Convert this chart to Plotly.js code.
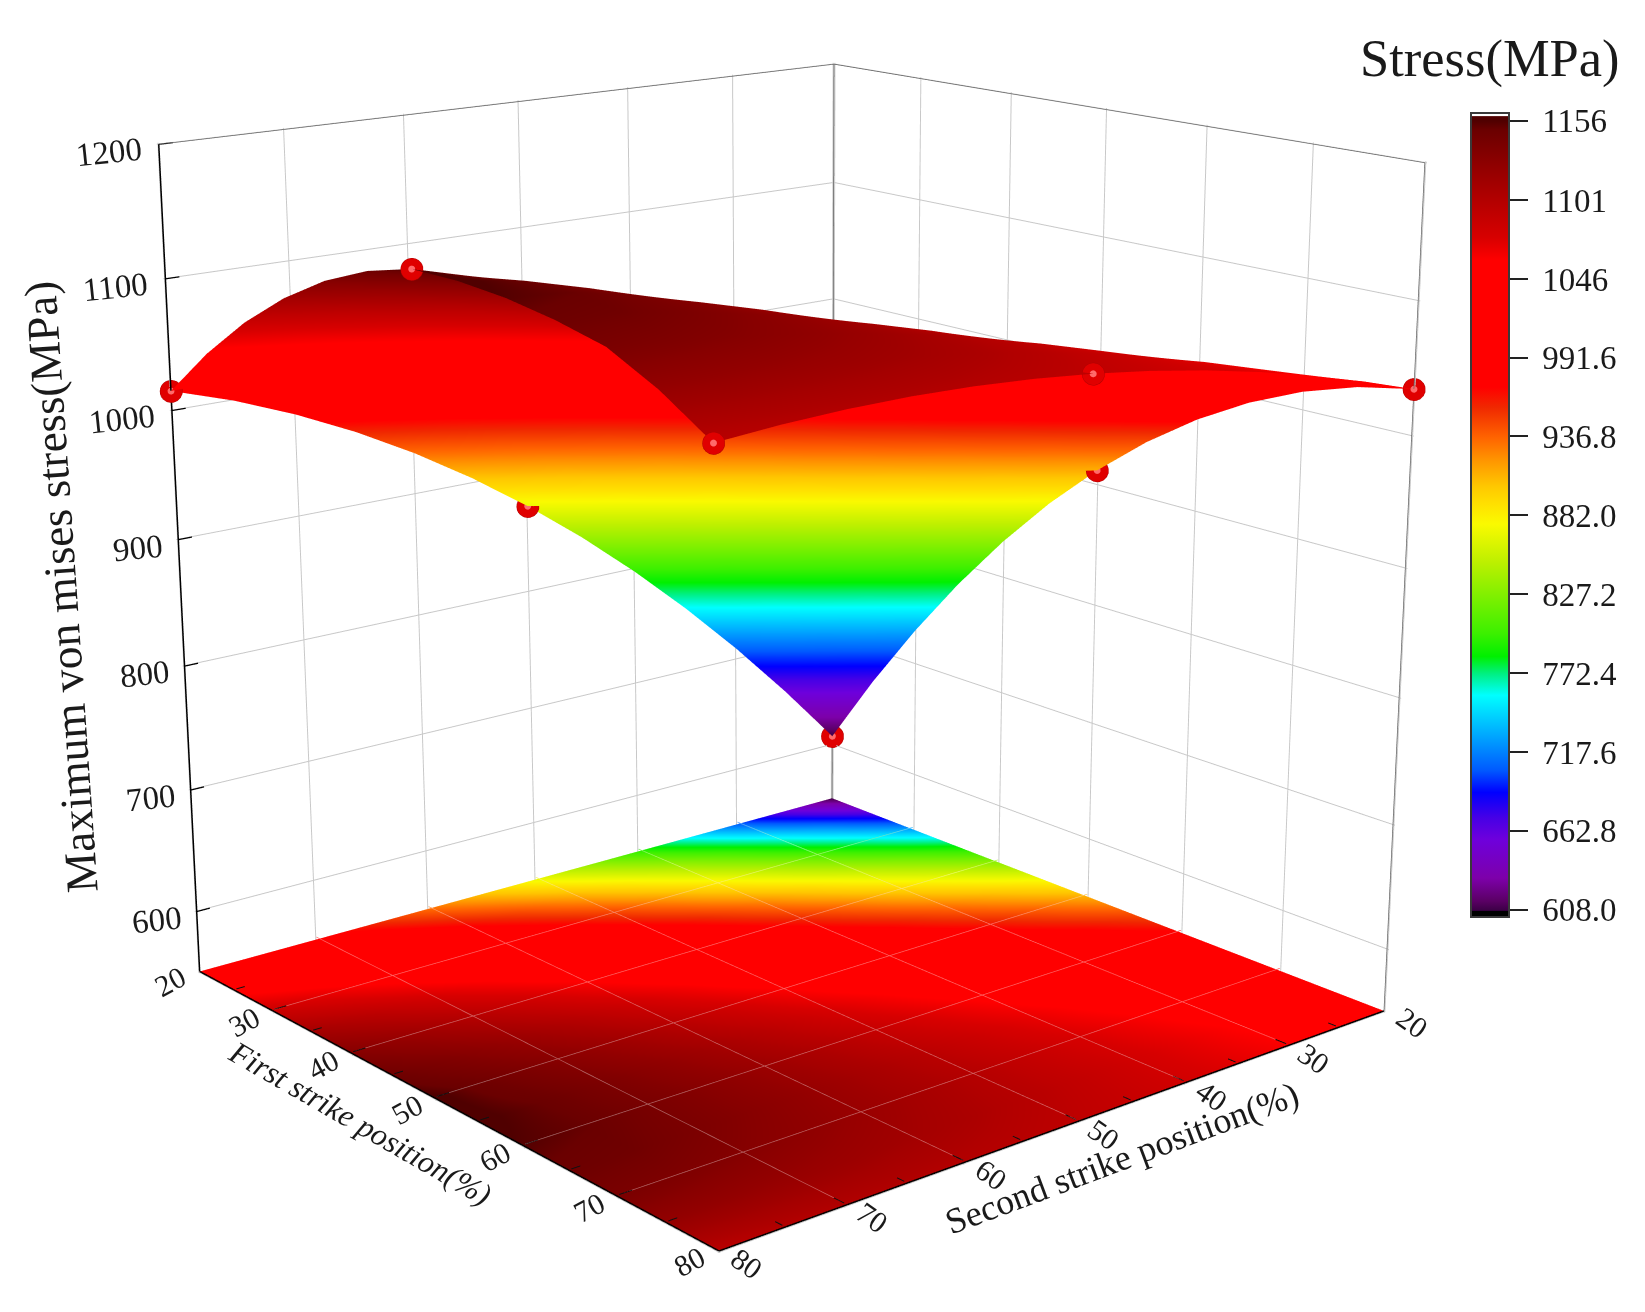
<!DOCTYPE html>
<html><head><meta charset="utf-8">
<script src="https://cdn.plot.ly/plotly-3.0.1.min.js"></script>
<style>html,body{margin:0;padding:0;width:1645px;height:1312px;overflow:hidden;background:#fff}
#chart{position:absolute}</style></head><body><div id="chart"></div>
<script>
// grid axes (percent)
const firstPos=[20,25,30,35,40,45,50,55,60,65,70,75,80];
const secondPos=[20,25,30,35,40,45,50,55,60,65,70,75,80];
// stress: one row per second-strike position, one column per first-strike position
const stressBySecond=[
[608,671.3,729.4,782.6,830.8,874,912,945.1,973.1,996.1,1014.1,1027.1,1035],
[660.4,719,772.8,821.8,866.1,905.6,940.3,970.2,995.4,1015.9,1031.5,1042.4,1048.5],
[709.5,763.8,813.6,858.8,899.5,935.6,967.1,994.1,1016.4,1034.3,1047.5,1056.3,1060.4],
[755.1,805.8,851.9,893.7,931,964,992.5,1016.6,1036.3,1051.6,1062.5,1068.9,1070.9],
[797.4,844.7,887.7,926.4,960.7,990.7,1016.4,1037.8,1054.8,1067.6,1075.9,1080,1079.8],
[836.4,880.8,921,957,988.5,1015.8,1038.9,1057.7,1072.1,1082.3,1088.2,1089.9,1087.2],
[872,914.1,951.8,985.4,1014.5,1039.4,1060,1076.2,1088.2,1095.9,1099.2,1098.2,1093],
[904.2,944.4,980.1,1011.6,1038.6,1061.4,1079.6,1093.5,1103,1108.1,1108.9,1105.3,1097.3],
[933.1,971.8,1006,1035.7,1060.9,1081.6,1097.8,1109.4,1116.6,1119.3,1117.4,1111,1100.1],
[958.6,996.3,1029.4,1057.6,1081.4,1100.2,1114.5,1124,1128.9,1129.1,1124.5,1115.3,1101.4],
[980.7,1017.9,1050.2,1077.5,1099.9,1117.3,1129.8,1137.3,1140,1137.6,1130.5,1118.2,1101.1],
[999.6,1036.7,1068.5,1095.1,1116.5,1132.7,1143.6,1149.3,1149.8,1145,1135,1119.8,1099.3],
[1015,1052.5,1084.4,1110.6,1131.4,1146.5,1156,1156,1153,1147,1138.4,1120,1096]];
// measured points
const pointFirst=[20,20,20,50,50,80,80,80];
const pointSecond=[20,50,80,20,80,20,50,80];
const pointStress=[608,872,1015,912,1156,1035,1093,1096];
// ticks
const posMajor=[20,30,40,50,60,70,80];
const posMinor=[25,35,45,55,65,75];
const zTicks=[600,700,800,900,1000,1100,1200];
const zRange=[550,1200];
const barTicks=[608,662.8,717.6,772.4,827.2,882,936.8,991.6,1046,1101,1156];
const barLabels=['608.0','662.8','717.6','772.4','827.2','882.0','936.8','991.6','1046','1101','1156'];
// colour map
const cMin=603, cMax=1161.5;
const stopStress=[603,607,607.6,614,630,657,672,689.5,705,730,757,772,784,800,827,850,876,890,902,920,936,957,971,1059,1075,1100,1125,1150,1156,1159,1159.6,1161.5];
const stopColor=['#000000','#000000','#3c0046','#5a0064','#7d00aa','#6e00dc','#4600e6','#0000ff','#005aff','#00aaff','#00ffff','#00f082','#00f000','#3cf000','#82f000','#bef000','#fafa00','#ffe000','#ffc800','#ff9600','#ff6400','#f02800','#ff0000','#ff0000','#d70000','#b40000','#900000','#6a0000','#500000','#500000','#ffffff','#ffffff'];

const W=1700,H=3154,LEFT=-49,TOP=-911;
const el=document.getElementById('chart');
el.style.left=LEFT+'px';el.style.top=TOP+'px';el.style.width=W+'px';el.style.height=H+'px';
const colorscale=stopStress.map((s,i)=>[(s-cMin)/(cMax-cMin),stopColor[i]]);
const stress=firstPos.map((_,j)=>secondPos.map((_,k)=>stressBySecond[k][j])); // rows = first (y), cols = second (x)
const floorZ=stress.map(r=>r.map(()=>zRange[0]));
const flat={ambient:1,diffuse:0,specular:0,roughness:1,fresnel:0};
const noContours={x:{show:false,highlight:false},y:{show:false,highlight:false},z:{show:false,highlight:false}};
const serif='"Liberation Serif","Times New Roman",serif';
const ink='#1a1a1a';

function hex(c){return [1,3,5].map(i=>parseInt(c.slice(i,i+2),16));}
function paleColor(s){ // colour of the floor at stress s, lightened for its grid line
 let i=0;while(i<stopStress.length-2&&stopStress[i+1]<s)i++;
 const t=Math.max(0,Math.min(1,(s-stopStress[i])/(stopStress[i+1]-stopStress[i])));
 const p=hex(stopColor[i]),q=hex(stopColor[i+1]);
 return 'rgb('+p.map((v,n)=>Math.round((v+(q[n]-v)*t)*0.62+255*0.38)).join(',')+')';
}
function segs(list){const X=[],Y=[],Z=[];list.forEach(s=>{X.push(s[0][0],s[1][0],null);Y.push(s[0][1],s[1][1],null);Z.push(s[0][2],s[1][2],null);});return {x:X,y:Y,z:Z};}
function lineTrace(list,color,width){return Object.assign({type:'scatter3d',mode:'lines',line:{color:color,width:width},hoverinfo:'skip',showlegend:false},segs(list));}

const zb=zRange[0],zt=zRange[1],a=20,b=80;
const gridLift=zb+2;
const gx=[],gy=[],gz=[],gc=[];
posMajor.slice(1,-1).forEach(v=>{
 const iv=firstPos.indexOf(v);
 secondPos.forEach((p,k)=>{gx.push(p);gy.push(v);gz.push(gridLift);gc.push(paleColor(stress[iv][k]));});
 gx.push(null);gy.push(null);gz.push(null);gc.push('rgb(255,255,255)');
 firstPos.forEach((p,j)=>{gx.push(v);gy.push(p);gz.push(gridLift);gc.push(paleColor(stress[j][iv]));});
 gx.push(null);gy.push(null);gz.push(null);gc.push('rgb(255,255,255)');
});
const tickLift=zb+2;
const ticks=[];
posMajor.slice(1,-1).forEach(v=>{ticks.push([[v,b,tickLift],[v,b-1,tickLift]]);ticks.push([[b,v,tickLift],[b-1,v,tickLift]]);});
posMinor.forEach(v=>{ticks.push([[v,b,tickLift],[v,b-0.7,tickLift]]);ticks.push([[b,v,tickLift],[b-0.7,v,tickLift]]);});
const zTickSegs=zTicks.map(v=>[[b,a,v],[b-1.1,a,v]]);

const data=[
 {type:'surface',x:secondPos,y:firstPos,z:stress,cmin:cMin,cmax:cMax,colorscale:colorscale,lighting:flat,hoverinfo:'skip',contours:noContours,
  colorbar:{thicknessmode:'pixels',thickness:38,lenmode:'pixels',len:804,xanchor:'left',x:(1471-LEFT)/W,yanchor:'top',y:1-(113-TOP)/H,xpad:0,ypad:0,
   outlinewidth:2,outlinecolor:'#3a3a3a',borderwidth:0,ticks:'outside',ticklen:18,tickwidth:2,tickcolor:'#222',tickmode:'array',tickvals:barTicks,ticktext:barLabels.map(s=>'\u00A0'+s),
   tickfont:{family:serif,size:33,color:ink}}},
 {type:'surface',x:secondPos,y:firstPos,z:floorZ,surfacecolor:stress,cmin:cMin,cmax:cMax,colorscale:colorscale,showscale:false,lighting:flat,hoverinfo:'skip',contours:noContours},
 {type:'scatter3d',mode:'lines',x:gx,y:gy,z:gz,line:{color:gc,width:1.5},hoverinfo:'skip',showlegend:false},
 lineTrace(ticks,'#111',2),
 lineTrace([[[b,a,zb],[b,b,zb]],[[a,b,zb],[b,b,zb]],[[b,a,zb],[b,a,zt]]],'#000',3),
 lineTrace(zTickSegs,'#000',2.5),
 lineTrace([[[b,a,zt],[a,a,zt]],[[a,a,zt],[a,b,zt]],[[a,a,zb],[a,a,zt]],[[a,b,zb],[a,b,zt]]],'#666',1.5),
 {type:'scatter3d',mode:'markers',x:pointSecond,y:pointFirst,z:pointStress,marker:{size:13,color:'#e00000',line:{color:'#b00000',width:1}},hoverinfo:'skip',showlegend:false},
 {type:'scatter3d',mode:'markers',x:pointSecond,y:pointFirst,z:pointStress,marker:{size:4,color:'#ff6a6a'},hoverinfo:'skip',showlegend:false}
];

function axis(range,dtick,tick0){return {range:range,autorange:false,dtick:dtick,tick0:tick0,tickmode:'linear',showticklabels:false,ticks:'',showgrid:true,gridcolor:'#c8c8c8',gridwidth:2,zeroline:false,showline:false,showbackground:false,showspikes:false,title:{text:''}};}

const anns=[];
function ann(x,y,z,text,size,angle,dx,dy,extra){anns.push(Object.assign({x:x,y:y,z:z,text:text,showarrow:false,textangle:angle,xanchor:'center',yanchor:'middle',xshift:dx,yshift:-dy,font:{family:serif,size:size,color:ink}},extra||{}));}
posMajor.forEach(v=>{ann(b,v,zb,String(v),30,-28,-30,10);ann(v,b,zb,String(v),30,35,28,12);});
zTicks.forEach(v=>ann(b,a,v,String(v),33,-6,v>=1000?-50:-40,8));
ann(b,50,zb,'First strike position(%)',31.5,30,-76,24,{font:{family:serif,size:31.5,color:ink,style:'italic'}});
ann(50,b,zb,'Second strike position(%)',36,-20.5,46,36);
ann(b,a,875,'Maximum von mises stress(MPa)',45.5,-94,-119,15);

const layout={width:W,height:H,margin:{l:0,r:0,t:0,b:0},paper_bgcolor:'#fff',showlegend:false,
 scene:{domain:{x:[0,1],y:[0,1]},aspectmode:'manual',aspectratio:{x:1,y:1,z:1},bgcolor:'#fff',
  camera:{projection:{type:'perspective'},eye:{x:2.681,y:3.237,z:1.188},center:{x:-0.079,y:-0.063,z:-0.126},up:{x:-0.0035,y:0.003,z:1}},
  xaxis:axis([19.9,80.1],10,20),yaxis:axis([19.9,80.1],10,20),zaxis:axis([zRange[0]-1,zRange[1]+1],100,600),annotations:anns},
 annotations:[{xref:'paper',yref:'paper',x:(1490-LEFT)/W,y:1-(58-TOP)/H,text:'Stress(MPa)',showarrow:false,xanchor:'center',yanchor:'middle',font:{family:serif,size:52.5,color:ink}}]};
Plotly.newPlot(el,data,layout,{displayModeBar:false,responsive:false});
</script></body></html>
